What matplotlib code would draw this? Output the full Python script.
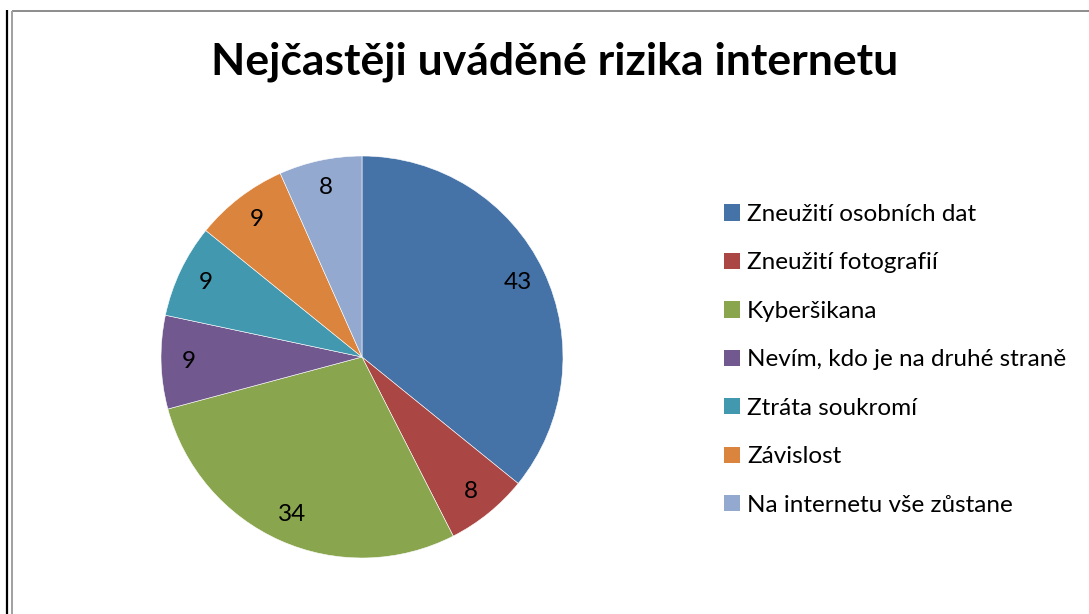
import matplotlib.pyplot as plt
from matplotlib.lines import Line2D
from matplotlib.patches import Patch

title = 'Nejčastěji uváděné rizika internetu'
labels = ['Zneužití osobních dat', 'Zneužití fotografií', 'Kyberšikana',
          'Nevím, kdo je na druhé straně', 'Ztráta soukromí', 'Závislost',
          'Na internetu vše zůstane']
values = [43, 8, 34, 9, 9, 9, 8]
colors = ['#4572A7', '#AA4643', '#89A54E', '#71588F', '#4198AF', '#DB843D', '#93A9CF']

plt.rcParams['font.family'] = ['Lato', 'DejaVu Sans']

W, H = 1089, 614
fig = plt.figure(figsize=(W / 100, H / 100), dpi=100)

# pie centre (362, 357) px, radius 201 px
cx, cy, r = 362, 357, 201
ax = fig.add_axes([(cx - r) / W, (H - cy - r) / H, 2 * r / W, 2 * r / H])
wedges, texts = ax.pie(values, colors=colors, startangle=90, counterclock=False,
                       labels=[str(v) for v in values], labeldistance=0.86,
                       wedgeprops=dict(edgecolor='white', linewidth=0.4),
                       textprops=dict(fontsize=17.5, color='black'))
for t in texts:
    t.set_ha('center')
    t.set_va('center')
ax.set_xlim(-1, 1)
ax.set_ylim(-1, 1)

fig.text(555 / W, 1 - 62 / H, title, ha='center', va='center',
         fontsize=32, fontweight='bold')

handles = [Patch(facecolor=c, edgecolor='none') for c in colors]
fig.legend(handles, labels, loc='upper left', bbox_to_anchor=(724 / W, 1 - 204 / H),
           frameon=False, fontsize=17.5, handlelength=0.65, handleheight=0.65,
           handletextpad=0.3, labelspacing=1.13, borderaxespad=0, borderpad=0)

# frame lines
fig.add_artist(Line2D([6.5 / W, 6.5 / W], [0, 1 - 10 / H], color='black', linewidth=1.6,
                      solid_capstyle='butt'))
fig.add_artist(Line2D([11.5 / W, 1], [1 - 11 / H, 1 - 11 / H], color='#8c8c8c', linewidth=1.4,
                      solid_capstyle='butt'))
fig.add_artist(Line2D([11.5 / W, 11.5 / W], [0, 1 - 11 / H], color='#a0a0a0', linewidth=1.4,
                      solid_capstyle='butt'))

fig.savefig('out.png', dpi=100)
